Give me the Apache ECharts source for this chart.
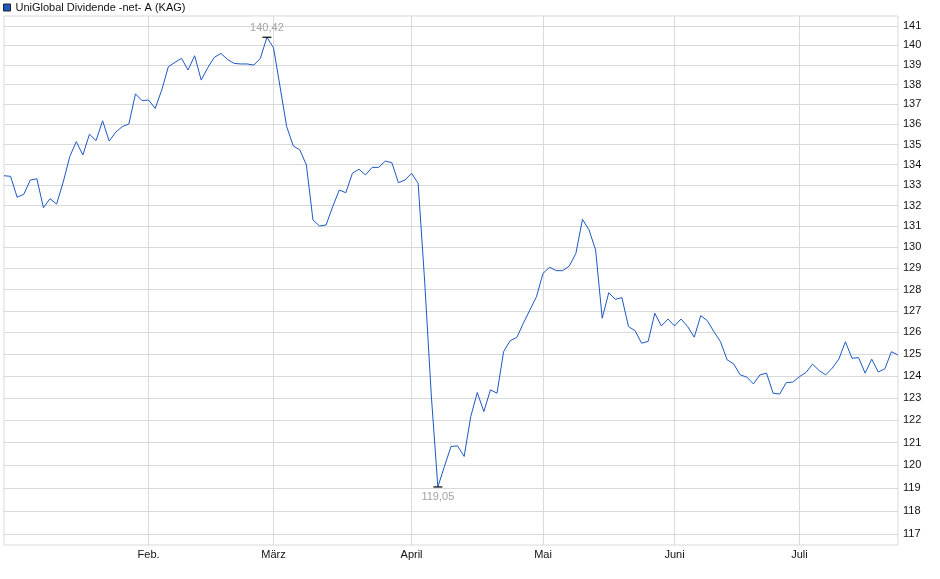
<!DOCTYPE html>
<html>
<head>
<meta charset="utf-8">
<script src="https://cdn.jsdelivr.net/npm/echarts@6/dist/echarts.min.js"></script>
<style>
  html, body { margin: 0; padding: 0; background: #fff; }
  #chart { width: 940px; height: 579px; }
</style>
</head>
<body>
<div id="chart"></div>
<script>
// Kursverlauf (ein Wert pro Handelstag)
const fundName = 'UniGlobal Dividende -net- A (KAG)'
const navValues = [
  133.46, 133.43, 132.41, 132.55, 133.25, 133.31, 131.90, 132.34, 132.08, 133.14,
  134.40, 135.14, 134.48, 135.51, 135.19, 136.18, 135.17, 135.61, 135.89, 136.02,
  137.53, 137.19, 137.22, 136.80, 137.73, 138.91, 139.13, 139.34, 138.74, 139.47,
  138.23, 138.86, 139.39, 139.59, 139.28, 139.08, 139.05, 139.05, 138.99, 139.34,
  140.42, 139.88, 137.88, 135.89, 134.93, 134.73, 133.99, 131.31, 131.02, 131.07,
  131.95, 132.76, 132.63, 133.58, 133.78, 133.50, 133.87, 133.87, 134.18, 134.10,
  133.12, 133.25, 133.58, 133.09, 128.35, 123.14, 119.05, 119.95, 120.83, 120.86,
  120.39, 122.16, 123.25, 122.39, 123.37, 123.22, 125.11, 125.62, 125.76, 126.42,
  127.04, 127.66, 128.76, 129.05, 128.89, 128.89, 129.11, 129.71, 131.34, 130.83,
  129.87, 126.66, 127.85, 127.54, 127.62, 126.27, 126.08, 125.50, 125.59, 126.89,
  126.30, 126.62, 126.30, 126.62, 126.27, 125.78, 126.78, 126.54, 126.03, 125.57,
  124.74, 124.55, 124.05, 123.95, 123.64, 124.05, 124.13, 123.22, 123.18, 123.70,
  123.72, 123.97, 124.16, 124.54, 124.25, 124.05, 124.36, 124.77, 125.57, 124.81,
  124.84, 124.13, 124.77, 124.18, 124.33, 125.11, 124.96
]
// Monatsanfänge (Index des Handelstages) und Beschriftung
const monthTicks = [22, 41, 62, 82, 102, 121]
const monthNames = ['Feb.', 'März', 'April', 'Mai', 'Juni', 'Juli']
// Y-Achse (logarithmisch)
const yTicks = [117, 118, 119, 120, 121, 122, 123, 124, 125, 126, 127, 128, 129,
  130, 131, 132, 133, 134, 135, 136, 137, 138, 139, 140, 141]
const yLow = 116.54
const yHigh = 141.52

const days = navValues.map((v, i) => String(i))
const logValues = navValues.map(v => Math.log(v))
const logTicks = yTicks.map(v => Math.log(v))

const fontFamily = '"Liberation Sans", Arial, sans-serif'
const fmt = v => Math.exp(v).toFixed(2).replace('.', ',')

var chart = echarts.init(document.getElementById('chart'), null, { renderer: 'canvas' })
var option = {
  animation: false,
  backgroundColor: '#fff',
  textStyle: { fontFamily: fontFamily },
  legend: {
    left: 3,
    top: 2,
    padding: 0,
    itemWidth: 7,
    itemHeight: 7,
    itemGap: 5,
    icon: 'rect',
    itemStyle: { color: '#1d58c4', borderColor: '#222', borderWidth: 1 },
    textStyle: { fontSize: 11, color: '#111', fontFamily: fontFamily, padding: [1, 0, 0, 0] },
    data: [fundName]
  },
  grid: {
    left: 4,
    right: 42,
    top: 16,
    bottom: 34,
    show: true,
    borderColor: '#d9d9d9',
    borderWidth: 1
  },
  xAxis: {
    type: 'category',
    boundaryGap: false,
    data: days,
    axisLine: { show: false },
    axisTick: { show: false },
    axisLabel: {
      interval: (idx) => monthTicks.includes(idx),
      formatter: (val, idx) => monthNames[monthTicks.indexOf(Number(val))] || '',
      fontSize: 11,
      color: '#111',
      margin: 4,
      fontFamily: fontFamily
    },
    splitLine: {
      show: true,
      interval: (idx) => monthTicks.includes(idx),
      lineStyle: { color: '#d9d9d9', width: 1 }
    }
  },
  yAxis: {
    type: 'value',
    position: 'right',
    min: Math.log(yLow),
    max: Math.log(yHigh),
    axisLine: { show: false },
    axisTick: { show: false, customValues: logTicks },
    axisLabel: {
      customValues: logTicks,
      formatter: v => String(Math.round(Math.exp(v))),
      fontSize: 11,
      color: '#111',
      margin: 5,
      fontFamily: fontFamily
    },
    splitLine: { show: true, lineStyle: { color: '#d9d9d9', width: 1 } }
  },
  series: [
    {
      name: fundName,
      type: 'line',
      data: logValues,
      showSymbol: false,
      symbol: 'none',
      lineStyle: { color: '#1d58c4', width: 1 },
      itemStyle: { color: '#1d58c4' },
      markPoint: {
        symbol: 'rect',
        symbolSize: [9, 1.2],
        itemStyle: { color: '#000' },
        data: [
          {
            type: 'max',
            label: { position: 'top', distance: 3, formatter: p => fmt(p.value),
              color: '#a3a3a3', fontSize: 11, fontFamily: fontFamily }
          },
          {
            type: 'min',
            label: { position: 'bottom', distance: 4, formatter: p => fmt(p.value),
              color: '#a3a3a3', fontSize: 11, fontFamily: fontFamily }
          }
        ]
      }
    }
  ]
}
chart.setOption(option)
window.addEventListener('resize', () => {
  chart.resize()
})
</script>
</body>
</html>
